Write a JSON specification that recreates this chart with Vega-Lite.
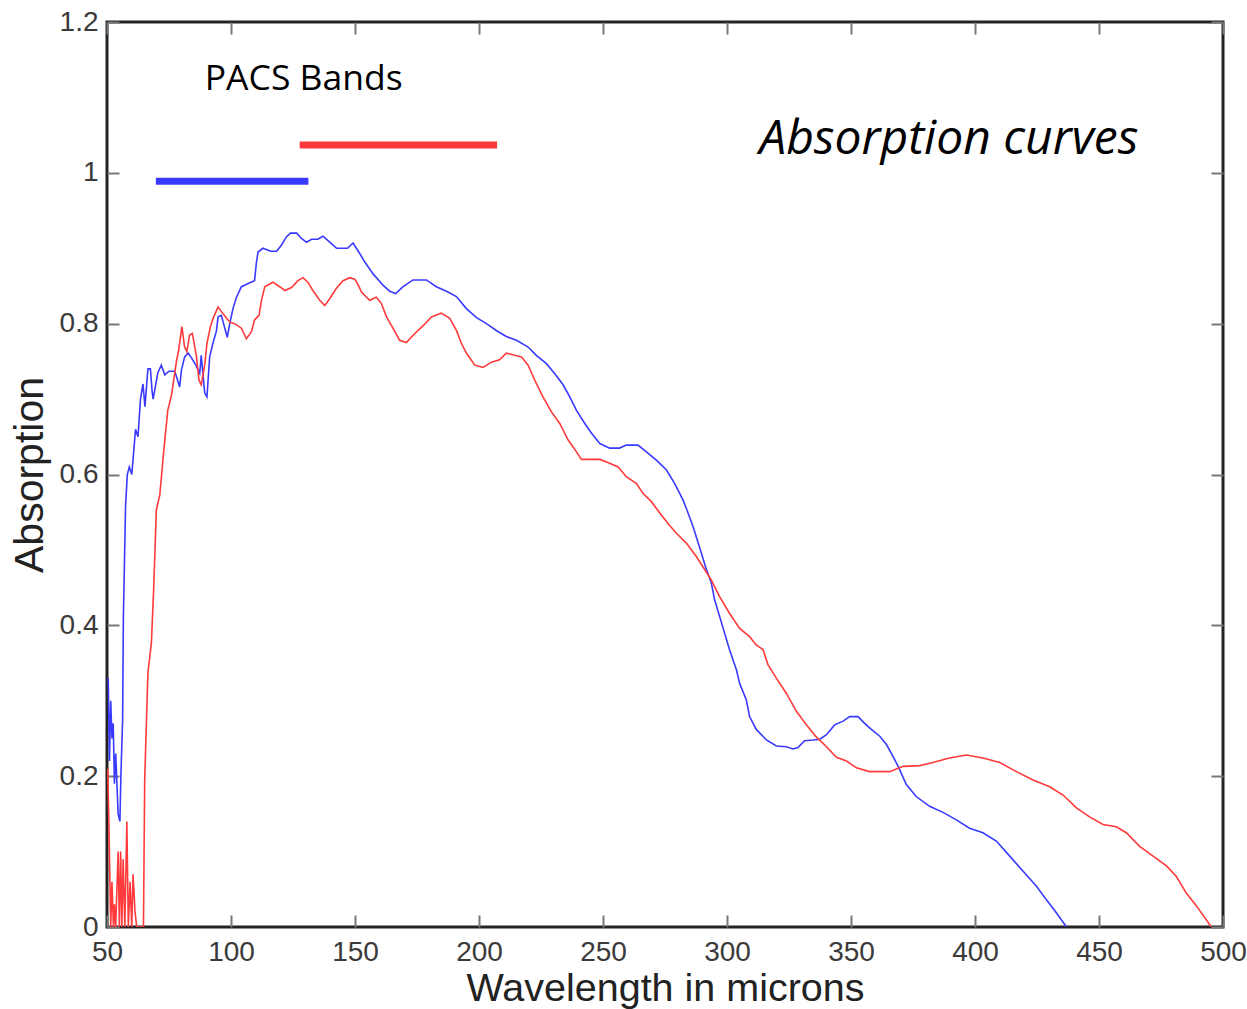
{
  "$schema": "https://vega.github.io/schema/vega-lite/v6.json",
  "autosize": "none",
  "width": 1116,
  "height": 905,
  "padding": {"left": 107, "top": 22, "right": 24, "bottom": 82},
  "background": "white",
  "config": {
    "view": {"stroke": "#222222", "strokeWidth": 3},
    "axis": {
      "domain": false,
      "grid": false,
      "tickColor": "#777777",
      "tickWidth": 2,
      "labelFont": "Liberation Sans",
      "labelFontSize": 28,
      "labelColor": "#3a3a3a",
      "titleFont": "Liberation Sans",
      "titleFontWeight": "normal",
      "titleColor": "#222222",
      "labelFlush": false,
      "labelOverlap": false
    }
  },
  "datasets": {
    "curves": [
      {"s": "blue", "w": 50.5, "a": 0.33}, {"s": "blue", "w": 51, "a": 0.22}, {"s": "blue", "w": 51.5, "a": 0.30}, {"s": "blue", "w": 52, "a": 0.25}, {"s": "blue", "w": 52.5, "a": 0.27}, {"s": "blue", "w": 53, "a": 0.19}, {"s": "blue", "w": 53.5, "a": 0.23}, {"s": "blue", "w": 54.5, "a": 0.15}, {"s": "blue", "w": 55.2, "a": 0.14}, {"s": "blue", "w": 55.6, "a": 0.2}, {"s": "blue", "w": 56.3, "a": 0.275}, {"s": "blue", "w": 56.6, "a": 0.41}, {"s": "blue", "w": 57.5, "a": 0.56}, {"s": "blue", "w": 58.2, "a": 0.6}, {"s": "blue", "w": 59, "a": 0.61}, {"s": "blue", "w": 60, "a": 0.6}, {"s": "blue", "w": 61, "a": 0.64}, {"s": "blue", "w": 61.5, "a": 0.66}, {"s": "blue", "w": 62.5, "a": 0.65}, {"s": "blue", "w": 63.5, "a": 0.70}, {"s": "blue", "w": 64.5, "a": 0.72}, {"s": "blue", "w": 65.3, "a": 0.69}, {"s": "blue", "w": 66.5, "a": 0.74}, {"s": "blue", "w": 67.5, "a": 0.74}, {"s": "blue", "w": 68.2, "a": 0.71}, {"s": "blue", "w": 68.6, "a": 0.70}, {"s": "blue", "w": 70.5, "a": 0.735}, {"s": "blue", "w": 71.9, "a": 0.745}, {"s": "blue", "w": 73.3, "a": 0.732}, {"s": "blue", "w": 75, "a": 0.737}, {"s": "blue", "w": 77.3, "a": 0.737}, {"s": "blue", "w": 78, "a": 0.73}, {"s": "blue", "w": 79.3, "a": 0.716}, {"s": "blue", "w": 80, "a": 0.738}, {"s": "blue", "w": 81.3, "a": 0.756}, {"s": "blue", "w": 82.7, "a": 0.761}, {"s": "blue", "w": 84, "a": 0.755}, {"s": "blue", "w": 86, "a": 0.744}, {"s": "blue", "w": 87.4, "a": 0.734}, {"s": "blue", "w": 88, "a": 0.758}, {"s": "blue", "w": 89.4, "a": 0.708}, {"s": "blue", "w": 90.3, "a": 0.703}, {"s": "blue", "w": 91.4, "a": 0.756}, {"s": "blue", "w": 92.7, "a": 0.774}, {"s": "blue", "w": 94.1, "a": 0.79}, {"s": "blue", "w": 94.8, "a": 0.809}, {"s": "blue", "w": 96.1, "a": 0.811}, {"s": "blue", "w": 97.5, "a": 0.794}, {"s": "blue", "w": 98.5, "a": 0.782}, {"s": "blue", "w": 99.5, "a": 0.80}, {"s": "blue", "w": 100.8, "a": 0.82}, {"s": "blue", "w": 102.2, "a": 0.835}, {"s": "blue", "w": 104.2, "a": 0.849}, {"s": "blue", "w": 106.7, "a": 0.853}, {"s": "blue", "w": 109.5, "a": 0.857}, {"s": "blue", "w": 110.2, "a": 0.88}, {"s": "blue", "w": 110.9, "a": 0.895}, {"s": "blue", "w": 112.9, "a": 0.90}, {"s": "blue", "w": 116, "a": 0.896}, {"s": "blue", "w": 118.4, "a": 0.896}, {"s": "blue", "w": 120.3, "a": 0.904}, {"s": "blue", "w": 122.3, "a": 0.915}, {"s": "blue", "w": 124, "a": 0.92}, {"s": "blue", "w": 126.5, "a": 0.92}, {"s": "blue", "w": 128.4, "a": 0.913}, {"s": "blue", "w": 130.4, "a": 0.908}, {"s": "blue", "w": 132.5, "a": 0.912}, {"s": "blue", "w": 135, "a": 0.912}, {"s": "blue", "w": 137.1, "a": 0.916}, {"s": "blue", "w": 139.8, "a": 0.908}, {"s": "blue", "w": 142.6, "a": 0.90}, {"s": "blue", "w": 147, "a": 0.90}, {"s": "blue", "w": 149.2, "a": 0.907}, {"s": "blue", "w": 151.9, "a": 0.893}, {"s": "blue", "w": 153.9, "a": 0.882}, {"s": "blue", "w": 157.3, "a": 0.866}, {"s": "blue", "w": 161.3, "a": 0.851}, {"s": "blue", "w": 164, "a": 0.843}, {"s": "blue", "w": 166.4, "a": 0.84}, {"s": "blue", "w": 169.4, "a": 0.849}, {"s": "blue", "w": 173.4, "a": 0.858}, {"s": "blue", "w": 178.8, "a": 0.858}, {"s": "blue", "w": 182.8, "a": 0.849}, {"s": "blue", "w": 186.9, "a": 0.843}, {"s": "blue", "w": 190.9, "a": 0.836}, {"s": "blue", "w": 194.9, "a": 0.82}, {"s": "blue", "w": 199, "a": 0.808}, {"s": "blue", "w": 203, "a": 0.80}, {"s": "blue", "w": 207, "a": 0.791}, {"s": "blue", "w": 211, "a": 0.783}, {"s": "blue", "w": 215.1, "a": 0.778}, {"s": "blue", "w": 219.8, "a": 0.769}, {"s": "blue", "w": 223.1, "a": 0.758}, {"s": "blue", "w": 227.2, "a": 0.747}, {"s": "blue", "w": 230.5, "a": 0.734}, {"s": "blue", "w": 233.9, "a": 0.719}, {"s": "blue", "w": 236.6, "a": 0.703}, {"s": "blue", "w": 239.3, "a": 0.685}, {"s": "blue", "w": 242.6, "a": 0.668}, {"s": "blue", "w": 245.3, "a": 0.655}, {"s": "blue", "w": 248.7, "a": 0.641}, {"s": "blue", "w": 252.7, "a": 0.635}, {"s": "blue", "w": 256.7, "a": 0.635}, {"s": "blue", "w": 259.4, "a": 0.639}, {"s": "blue", "w": 264.1, "a": 0.639}, {"s": "blue", "w": 267.5, "a": 0.63}, {"s": "blue", "w": 271.5, "a": 0.619}, {"s": "blue", "w": 275.6, "a": 0.606}, {"s": "blue", "w": 278.9, "a": 0.588}, {"s": "blue", "w": 282.3, "a": 0.566}, {"s": "blue", "w": 284.3, "a": 0.549}, {"s": "blue", "w": 286.3, "a": 0.531}, {"s": "blue", "w": 289, "a": 0.503}, {"s": "blue", "w": 291.3, "a": 0.478}, {"s": "blue", "w": 293.7, "a": 0.456}, {"s": "blue", "w": 295, "a": 0.434}, {"s": "blue", "w": 297, "a": 0.412}, {"s": "blue", "w": 299, "a": 0.39}, {"s": "blue", "w": 301, "a": 0.368}, {"s": "blue", "w": 303.8, "a": 0.341}, {"s": "blue", "w": 305.1, "a": 0.323}, {"s": "blue", "w": 307.8, "a": 0.301}, {"s": "blue", "w": 309.1, "a": 0.279}, {"s": "blue", "w": 311.8, "a": 0.262}, {"s": "blue", "w": 315.9, "a": 0.248}, {"s": "blue", "w": 319.9, "a": 0.240}, {"s": "blue", "w": 323.9, "a": 0.239}, {"s": "blue", "w": 326.6, "a": 0.236}, {"s": "blue", "w": 328.6, "a": 0.238}, {"s": "blue", "w": 331.3, "a": 0.247}, {"s": "blue", "w": 334.7, "a": 0.248}, {"s": "blue", "w": 337.4, "a": 0.249}, {"s": "blue", "w": 340.1, "a": 0.255}, {"s": "blue", "w": 343.4, "a": 0.268}, {"s": "blue", "w": 346.8, "a": 0.273}, {"s": "blue", "w": 349.5, "a": 0.279}, {"s": "blue", "w": 352.8, "a": 0.279}, {"s": "blue", "w": 355.5, "a": 0.27}, {"s": "blue", "w": 358.2, "a": 0.262}, {"s": "blue", "w": 361.6, "a": 0.253}, {"s": "blue", "w": 364.3, "a": 0.242}, {"s": "blue", "w": 367, "a": 0.226}, {"s": "blue", "w": 369.3, "a": 0.211}, {"s": "blue", "w": 372.3, "a": 0.189}, {"s": "blue", "w": 376.3, "a": 0.173}, {"s": "blue", "w": 381.7, "a": 0.16}, {"s": "blue", "w": 387.1, "a": 0.152}, {"s": "blue", "w": 392.5, "a": 0.142}, {"s": "blue", "w": 397.8, "a": 0.131}, {"s": "blue", "w": 403.2, "a": 0.125}, {"s": "blue", "w": 408.6, "a": 0.114}, {"s": "blue", "w": 414, "a": 0.094}, {"s": "blue", "w": 419.4, "a": 0.074}, {"s": "blue", "w": 424.8, "a": 0.054}, {"s": "blue", "w": 428.8, "a": 0.036}, {"s": "blue", "w": 432.8, "a": 0.019}, {"s": "blue", "w": 436.9, "a": 0.0},
      {"s": "red", "w": 50.3, "a": 0.21}, {"s": "red", "w": 50.8, "a": 0.13}, {"s": "red", "w": 51.5, "a": 0.0}, {"s": "red", "w": 52, "a": 0.06}, {"s": "red", "w": 52.6, "a": 0.0}, {"s": "red", "w": 53, "a": 0.03}, {"s": "red", "w": 53.5, "a": 0.0}, {"s": "red", "w": 54.5, "a": 0.1}, {"s": "red", "w": 55, "a": 0.0}, {"s": "red", "w": 55.5, "a": 0.1}, {"s": "red", "w": 56, "a": 0.0}, {"s": "red", "w": 56.5, "a": 0.09}, {"s": "red", "w": 57.2, "a": 0.0}, {"s": "red", "w": 58, "a": 0.14}, {"s": "red", "w": 58.6, "a": 0.0}, {"s": "red", "w": 59.3, "a": 0.06}, {"s": "red", "w": 60, "a": 0.0}, {"s": "red", "w": 60.5, "a": 0.07}, {"s": "red", "w": 61.3, "a": 0.02}, {"s": "red", "w": 62, "a": 0.0}, {"s": "red", "w": 64.7, "a": 0.0}, {"s": "red", "w": 65.2, "a": 0.195}, {"s": "red", "w": 66.5, "a": 0.337}, {"s": "red", "w": 67.9, "a": 0.377}, {"s": "red", "w": 68.8, "a": 0.447}, {"s": "red", "w": 69.9, "a": 0.553}, {"s": "red", "w": 71.3, "a": 0.573}, {"s": "red", "w": 72.9, "a": 0.632}, {"s": "red", "w": 74.5, "a": 0.685}, {"s": "red", "w": 76, "a": 0.705}, {"s": "red", "w": 78, "a": 0.75}, {"s": "red", "w": 78.9, "a": 0.765}, {"s": "red", "w": 80.2, "a": 0.796}, {"s": "red", "w": 81.3, "a": 0.769}, {"s": "red", "w": 82.2, "a": 0.763}, {"s": "red", "w": 83.3, "a": 0.785}, {"s": "red", "w": 84.4, "a": 0.787}, {"s": "red", "w": 86, "a": 0.758}, {"s": "red", "w": 87.1, "a": 0.725}, {"s": "red", "w": 88, "a": 0.719}, {"s": "red", "w": 89.4, "a": 0.745}, {"s": "red", "w": 90.3, "a": 0.774}, {"s": "red", "w": 91.7, "a": 0.796}, {"s": "red", "w": 93, "a": 0.809}, {"s": "red", "w": 94.8, "a": 0.822}, {"s": "red", "w": 96.8, "a": 0.813}, {"s": "red", "w": 99.5, "a": 0.802}, {"s": "red", "w": 101.5, "a": 0.80}, {"s": "red", "w": 104.2, "a": 0.794}, {"s": "red", "w": 106.2, "a": 0.78}, {"s": "red", "w": 108.2, "a": 0.789}, {"s": "red", "w": 109.5, "a": 0.805}, {"s": "red", "w": 111.3, "a": 0.811}, {"s": "red", "w": 112.3, "a": 0.831}, {"s": "red", "w": 113.6, "a": 0.849}, {"s": "red", "w": 116.9, "a": 0.855}, {"s": "red", "w": 119.6, "a": 0.849}, {"s": "red", "w": 121.7, "a": 0.844}, {"s": "red", "w": 124.4, "a": 0.848}, {"s": "red", "w": 127, "a": 0.857}, {"s": "red", "w": 129, "a": 0.861}, {"s": "red", "w": 131, "a": 0.855}, {"s": "red", "w": 133, "a": 0.844}, {"s": "red", "w": 135.8, "a": 0.831}, {"s": "red", "w": 137.8, "a": 0.824}, {"s": "red", "w": 139.8, "a": 0.833}, {"s": "red", "w": 142.5, "a": 0.847}, {"s": "red", "w": 145.2, "a": 0.857}, {"s": "red", "w": 147.9, "a": 0.861}, {"s": "red", "w": 149.9, "a": 0.859}, {"s": "red", "w": 151.5, "a": 0.85}, {"s": "red", "w": 152.6, "a": 0.842}, {"s": "red", "w": 155.9, "a": 0.831}, {"s": "red", "w": 158.6, "a": 0.835}, {"s": "red", "w": 160.6, "a": 0.827}, {"s": "red", "w": 162.7, "a": 0.809}, {"s": "red", "w": 165.3, "a": 0.794}, {"s": "red", "w": 168, "a": 0.778}, {"s": "red", "w": 170.7, "a": 0.775}, {"s": "red", "w": 174.1, "a": 0.787}, {"s": "red", "w": 177.4, "a": 0.797}, {"s": "red", "w": 180.8, "a": 0.809}, {"s": "red", "w": 184.8, "a": 0.814}, {"s": "red", "w": 188.2, "a": 0.807}, {"s": "red", "w": 190.9, "a": 0.791}, {"s": "red", "w": 192.9, "a": 0.774}, {"s": "red", "w": 194.9, "a": 0.761}, {"s": "red", "w": 198.3, "a": 0.745}, {"s": "red", "w": 201.6, "a": 0.742}, {"s": "red", "w": 205, "a": 0.749}, {"s": "red", "w": 208.3, "a": 0.752}, {"s": "red", "w": 211, "a": 0.761}, {"s": "red", "w": 214.4, "a": 0.758}, {"s": "red", "w": 217.1, "a": 0.756}, {"s": "red", "w": 219.8, "a": 0.745}, {"s": "red", "w": 222.5, "a": 0.725}, {"s": "red", "w": 225.8, "a": 0.703}, {"s": "red", "w": 229.2, "a": 0.683}, {"s": "red", "w": 232.5, "a": 0.668}, {"s": "red", "w": 235.9, "a": 0.646}, {"s": "red", "w": 239.3, "a": 0.63}, {"s": "red", "w": 241.3, "a": 0.62}, {"s": "red", "w": 248.7, "a": 0.62}, {"s": "red", "w": 252.7, "a": 0.615}, {"s": "red", "w": 256.1, "a": 0.61}, {"s": "red", "w": 259.4, "a": 0.597}, {"s": "red", "w": 263.5, "a": 0.588}, {"s": "red", "w": 266.1, "a": 0.575}, {"s": "red", "w": 269.5, "a": 0.564}, {"s": "red", "w": 272.9, "a": 0.549}, {"s": "red", "w": 276.2, "a": 0.535}, {"s": "red", "w": 279.6, "a": 0.522}, {"s": "red", "w": 283.6, "a": 0.509}, {"s": "red", "w": 287.7, "a": 0.491}, {"s": "red", "w": 291, "a": 0.474}, {"s": "red", "w": 293.7, "a": 0.46}, {"s": "red", "w": 297, "a": 0.438}, {"s": "red", "w": 301, "a": 0.416}, {"s": "red", "w": 305.1, "a": 0.396}, {"s": "red", "w": 309.1, "a": 0.385}, {"s": "red", "w": 311.8, "a": 0.374}, {"s": "red", "w": 314.5, "a": 0.368}, {"s": "red", "w": 316.5, "a": 0.348}, {"s": "red", "w": 319.9, "a": 0.33}, {"s": "red", "w": 323.9, "a": 0.31}, {"s": "red", "w": 328, "a": 0.286}, {"s": "red", "w": 332, "a": 0.268}, {"s": "red", "w": 336, "a": 0.252}, {"s": "red", "w": 340.1, "a": 0.239}, {"s": "red", "w": 344.1, "a": 0.225}, {"s": "red", "w": 348.2, "a": 0.22}, {"s": "red", "w": 352.2, "a": 0.211}, {"s": "red", "w": 357.5, "a": 0.206}, {"s": "red", "w": 365.6, "a": 0.206}, {"s": "red", "w": 371, "a": 0.213}, {"s": "red", "w": 377.7, "a": 0.214}, {"s": "red", "w": 383, "a": 0.218}, {"s": "red", "w": 389.7, "a": 0.224}, {"s": "red", "w": 396.5, "a": 0.228}, {"s": "red", "w": 403.2, "a": 0.224}, {"s": "red", "w": 410, "a": 0.218}, {"s": "red", "w": 416.7, "a": 0.206}, {"s": "red", "w": 423.4, "a": 0.195}, {"s": "red", "w": 430.1, "a": 0.186}, {"s": "red", "w": 435.5, "a": 0.175}, {"s": "red", "w": 440.9, "a": 0.158}, {"s": "red", "w": 446.2, "a": 0.146}, {"s": "red", "w": 451.6, "a": 0.136}, {"s": "red", "w": 457, "a": 0.133}, {"s": "red", "w": 461, "a": 0.125}, {"s": "red", "w": 466.4, "a": 0.107}, {"s": "red", "w": 471.8, "a": 0.094}, {"s": "red", "w": 477.2, "a": 0.081}, {"s": "red", "w": 481.2, "a": 0.067}, {"s": "red", "w": 485.2, "a": 0.045}, {"s": "red", "w": 489.3, "a": 0.028}, {"s": "red", "w": 495.3, "a": 0.0}
    ],
    "bands": [
      {"s": "blue", "start": 69.7, "end": 131.2, "level": 0.989},
      {"s": "red", "start": 127.7, "end": 207.3, "level": 1.037}
    ],
    "notes": [
      {"label": "PACS Bands", "w": 89.4, "a": 1.11, "style": "plain"},
      {"label": "Absorption curves", "w": 313, "a": 1.025, "style": "italic"}
    ]
  },
  "layer": [
    {
      "data": {"name": "curves"},
      "mark": {"type": "line", "strokeWidth": 1.6, "clip": true},
      "encoding": {
        "x": {
          "field": "w", "type": "quantitative",
          "scale": {"domain": [50, 500], "nice": false, "zero": false},
          "axis": {
            "orient": "bottom",
            "values": [50, 100, 150, 200, 250, 300, 350, 400, 450, 500],
            "tickSize": -12,
            "labelPadding": 23,
            "title": "Wavelength in microns",
            "titleFontSize": 39.5,
            "titlePadding": 3
          }
        },
        "y": {
          "field": "a", "type": "quantitative",
          "scale": {"domain": [0, 1.2], "nice": false},
          "axis": {
            "orient": "left",
            "values": [0, 0.2, 0.4, 0.6, 0.8, 1, 1.2],
            "format": "~g",
            "tickSize": -12,
            "labelPadding": 21,
            "title": "Absorption",
            "titleFontSize": 41,
            "titlePadding": 8
          }
        },
        "detail": {"field": "s"},
        "color": {
          "field": "s", "type": "nominal",
          "scale": {"domain": ["blue", "red"], "range": ["#3a3aff", "#ff3a3a"]},
          "legend": null
        }
      }
    },
    {
      "data": {"name": "bands"},
      "mark": {"type": "rule", "strokeWidth": 7},
      "encoding": {
        "x": {
          "field": "start", "type": "quantitative",
          "axis": {
            "orient": "top",
            "values": [50, 100, 150, 200, 250, 300, 350, 400, 450, 500],
            "tickSize": -12,
            "labels": false,
            "title": null
          }
        },
        "x2": {"field": "end"},
        "y": {
          "field": "level", "type": "quantitative",
          "axis": {
            "orient": "right",
            "values": [0, 0.2, 0.4, 0.6, 0.8, 1, 1.2],
            "tickSize": -12,
            "labels": false,
            "title": null
          }
        },
        "color": {
          "field": "s", "type": "nominal",
          "scale": {"domain": ["blue", "red"], "range": ["#0000ff", "#ff0000"]},
          "legend": null
        }
      }
    },
    {
      "data": {"name": "notes"},
      "transform": [{"filter": "datum.style === 'plain'"}],
      "mark": {"type": "text", "font": "Open Sans", "fontSize": 35.5, "align": "left", "baseline": "alphabetic", "color": "#000000"},
      "encoding": {
        "x": {"field": "w", "type": "quantitative", "axis": null},
        "y": {"field": "a", "type": "quantitative", "axis": null},
        "text": {"field": "label"}
      }
    },
    {
      "data": {"name": "notes"},
      "transform": [{"filter": "datum.style === 'italic'"}],
      "mark": {"type": "text", "font": "Open Sans", "fontSize": 48, "fontStyle": "italic", "align": "left", "baseline": "alphabetic", "color": "#000000"},
      "encoding": {
        "x": {"field": "w", "type": "quantitative", "axis": null},
        "y": {"field": "a", "type": "quantitative", "axis": null},
        "text": {"field": "label"}
      }
    }
  ],
  "resolve": {"axis": {"x": "independent", "y": "independent"}}
}
